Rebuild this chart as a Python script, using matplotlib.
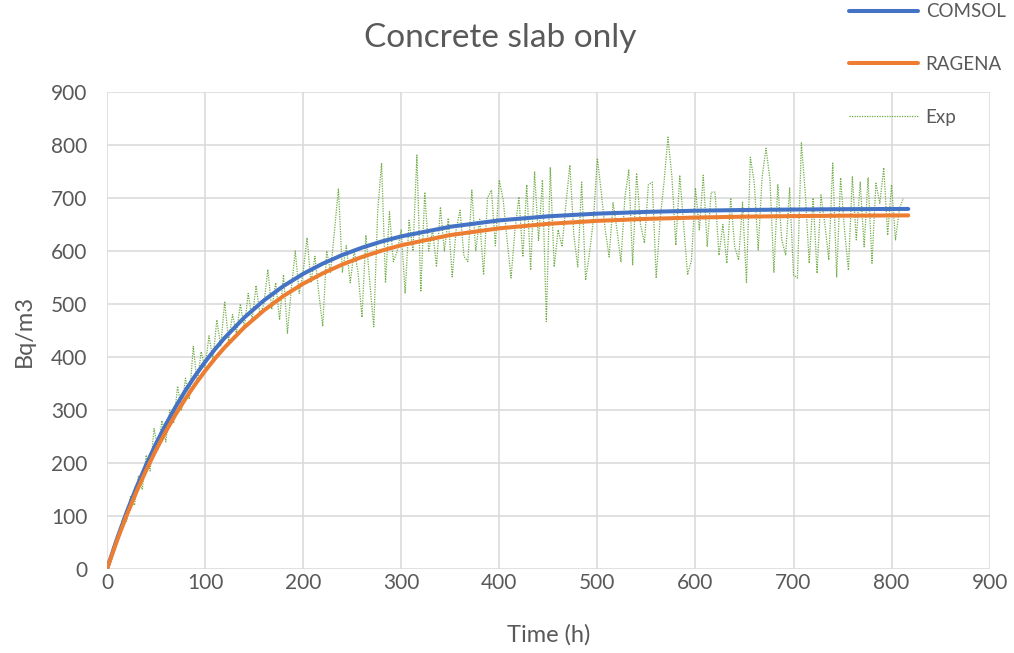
import numpy as np
import matplotlib
matplotlib.use("Agg")
from matplotlib import pyplot as plt

# Colours (Office palette)
BLUE = "#4472C4"
ORANGE = "#ED7D31"
GREEN = "#70AD47"
GRID = "#D9D9D9"
TEXT = "#595959"

plt.rcParams["font.family"] = ["Lato", "DejaVu Sans"]

# Model curves
model_time = [0, 10, 20, 30, 40, 50, 60, 70, 80, 90, 100, 110, 120, 140, 160, 180, 200,
              220, 240, 260, 280, 300, 350, 400, 450, 500, 550, 600, 650, 700, 750, 800, 817]
comsol = [0, 55.7, 106.8, 153.8, 196.9, 236.5, 272.8, 306.1, 336.8, 364.9, 390.7, 414.4,
          436.2, 474.5, 506.8, 534.0, 556.9, 576.2, 592.6, 606.3, 617.9, 627.6, 645.8,
          657.8, 665.5, 670.5, 673.8, 676.0, 677.4, 678.3, 678.9, 679.3, 679.4]
ragena = [0, 52.6, 101.0, 145.6, 186.7, 224.6, 259.5, 291.7, 321.2, 348.6, 373.7, 396.9,
          418.2, 456.0, 488.0, 515.2, 538.3, 557.9, 574.6, 588.7, 600.7, 610.9, 630.1,
          642.8, 651.3, 656.9, 660.6, 663.1, 664.8, 665.9, 666.6, 667.1, 667.2]

# Measured concentration, one reading every 4 h
exp_step = 4
exp_vals = [
    0, 28, 52, 60, 95, 90, 138, 120, 175, 150, 215, 185, 265, 225, 280, 240,
    300, 275, 345, 300, 360, 320, 420, 350, 410, 380, 440, 395, 470, 420, 505,
    430, 480, 445, 500, 455, 520, 470, 535, 480, 500, 565, 490, 540, 470, 555,
    445, 530, 600, 520, 560, 625, 540, 590, 520, 458, 600, 560, 640, 718, 560,
    610, 540, 600, 560, 475, 630, 540, 457, 674, 766, 540, 674, 580, 600, 640,
    520, 658, 600, 781, 523, 711, 600, 640, 570, 683, 600, 662, 551, 640, 677,
    590, 580, 715, 600, 660, 555, 700, 715, 610, 734, 696, 620, 549, 640, 702,
    589, 725, 564, 749, 620, 734, 467, 758, 570, 640, 608, 690, 762, 630, 570,
    730, 545, 596, 660, 775, 711, 640, 589, 691, 640, 579, 700, 753, 574, 747,
    650, 615, 725, 730, 549, 660, 730, 815, 740, 611, 743, 650, 555, 583, 719,
    640, 743, 608, 711, 711, 592, 650, 577, 700, 608,
    583, 692, 541, 777, 728, 602, 740, 794, 734, 560, 725, 621, 592, 719, 555,
    549, 804, 709, 577, 700, 558, 706, 650, 583, 766, 551, 738, 640, 564, 740,
    621, 730, 608, 738, 577, 728, 690, 757, 630, 725, 621, 680, 700,
]
exp_time = np.arange(len(exp_vals)) * exp_step

x_ticks = list(range(0, 1000, 100))
y_ticks = list(range(0, 1000, 100))

fig = plt.figure(figsize=(10.14, 6.53), dpi=100)
ax = fig.add_axes([0.1055, 0.1286, 0.8705, 0.7305])

ax.plot(exp_time, exp_vals, color=GREEN, linewidth=0.9, linestyle=(0, (1, 1)),
        label="Exp", zorder=2)
ax.plot(model_time, comsol, color=BLUE, linewidth=2.9, label="COMSOL",
        solid_capstyle="round", zorder=3)
ax.plot(model_time, ragena, color=ORANGE, linewidth=2.9, label="RAGENA",
        solid_capstyle="round", zorder=4)

ax.set_xlim(0, 900)
ax.set_ylim(0, 900)
ax.set_xticks(x_ticks)
ax.set_yticks(y_ticks)
ax.grid(True, color=GRID, linewidth=1.1)
ax.set_axisbelow(True)
for side in ["top", "right", "left", "bottom"]:
    ax.spines[side].set_visible(False)
ax.tick_params(length=0, labelsize=15, labelcolor=TEXT)
ax.tick_params(axis="x", pad=3)
ax.tick_params(axis="y", pad=14)

ax.set_xlabel("Time (h)", fontsize=17, color=TEXT, labelpad=22)
ax.set_ylabel("Bq/m3", fontsize=17, color=TEXT, labelpad=12)
fig.text(0.493, 0.942, "Concrete slab only", fontsize=24, color=TEXT,
         ha="center", va="center")

handles, labels = ax.get_legend_handles_labels()
order = [1, 2, 0]
fig.legend([handles[i] for i in order], [labels[i] for i in order],
           loc="upper left", bbox_to_anchor=(0.826, 1.012), frameon=False,
           borderaxespad=0.2, fontsize=13.5, handlelength=3.7, labelspacing=1.9,
           handletextpad=0.4, labelcolor=TEXT)

fig.savefig("out.png", dpi=100)
